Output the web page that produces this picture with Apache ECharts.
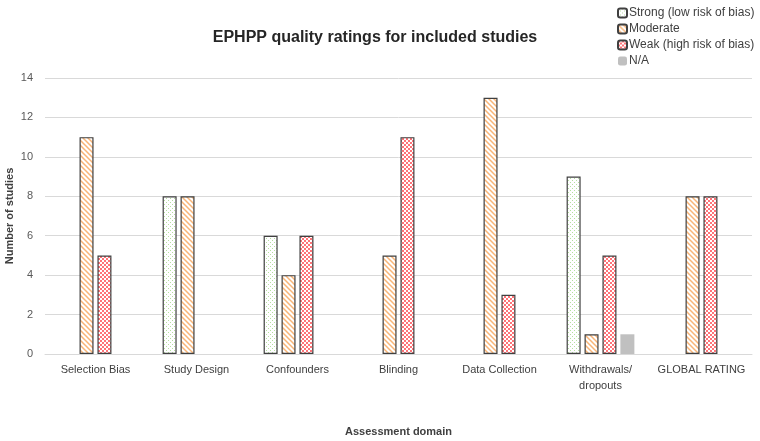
<!DOCTYPE html>
<html>
<head>
<meta charset="utf-8">
<script src="https://cdn.jsdelivr.net/npm/echarts@6/dist/echarts.min.js"></script>
<style>
  html, body { margin: 0; padding: 0; background: #fff; }
  #chart { width: 760px; height: 441px; }
</style>
</head>
<body>
<div id="chart"></div>
<script>
// data
var domains = ['Selection Bias', 'Study Design', 'Confounders', 'Blinding', 'Data Collection', 'Withdrawals/\ndropouts', 'GLOBAL RATING'];
var strong   = [0, 8, 6, 0, 0, 9, 0];
var moderate = [11, 8, 4, 5, 13, 1, 8];
var weak     = [5, 0, 6, 11, 3, 5, 8];
var na       = [0, 0, 0, 0, 0, 1, 0];
var seriesNames = ['Strong (low risk of bias)', 'Moderate', 'Weak (high risk of bias)', 'N/A'];
var yTicks = [0, 2, 4, 6, 8, 10, 12, 14];

// small canvas patterns to imitate the Excel fills
function makePattern(size, draw) {
    var c = document.createElement('canvas');
    c.width = size; c.height = size;
    var ctx = c.getContext('2d');
    ctx.fillStyle = '#fff';
    ctx.fillRect(0, 0, size, size);
    draw(ctx);
    return c;
}
var dots = makePattern(4, function (ctx) {
    ctx.fillStyle = '#b5dfa0';
    ctx.fillRect(0, 0, 1, 1);
    ctx.fillRect(2, 2, 1, 1);
});
var stripes = makePattern(5, function (ctx) {
    ctx.strokeStyle = '#f9b577';
    ctx.lineWidth = 1.5;
    ctx.beginPath();
    ctx.moveTo(-1, -1); ctx.lineTo(6, 6);
    ctx.moveTo(-1, 4); ctx.lineTo(1, 6);
    ctx.moveTo(4, -1); ctx.lineTo(6, 1);
    ctx.stroke();
});
var checks = makePattern(4, function (ctx) {
    ctx.fillStyle = '#ff7378';
    ctx.fillRect(0, 0, 2, 2);
    ctx.fillRect(2, 2, 2, 2);
});

function clean(arr) {
    // Excel leaves zero values empty
    return arr.map(function (v) { return v === 0 ? null : v; });
}

var font = 'Liberation Sans, Arial, sans-serif';
var myChart = echarts.init(document.getElementById('chart'));

function barSeries(name, data, fill, border) {
    return {
        name: name,
        type: 'bar',
        data: clean(data),
        barWidth: 14,
        barGap: '28%',
        itemStyle: {
            color: fill,
            borderColor: border,
            borderWidth: border ? 1.2 : 0
        }
    };
}

myChart.setOption({
    animation: false,
    textStyle: { fontFamily: font },
    title: {
        text: 'EPHPP quality ratings for included studies',
        left: 370,
        textAlign: 'center',
        top: 25,
        textStyle: { fontSize: 16, fontWeight: 'bold', color: '#262626', fontFamily: font }
    },
    legend: {
        orient: 'vertical',
        left: 612,
        top: 2,
        itemWidth: 9,
        itemHeight: 9,
        itemGap: 4,
        textStyle: { fontSize: 12, color: '#404040', padding: [0, 0, 0, -3] },
        data: seriesNames
    },
    grid: { left: 45, right: 8, top: 78, bottom: 87, containLabel: false, outerBoundsMode: 'none' },
    xAxis: {
        type: 'category',
        data: domains,
        name: 'Assessment domain',
        nameLocation: 'middle',
        nameGap: 72,
        nameMoveOverlap: false,
        nameTextStyle: { fontSize: 11, fontWeight: 'bold', color: '#404040' },
        axisLine: { lineStyle: { color: '#d9d9d9' } },
        axisTick: { show: false },
        axisLabel: { interval: 0, fontSize: 11, color: '#404040', margin: 8, lineHeight: 16 }
    },
    yAxis: {
        type: 'value',
        min: yTicks[0],
        max: yTicks[yTicks.length - 1],
        interval: yTicks[1] - yTicks[0],
        name: 'Number of studies',
        nameLocation: 'middle',
        nameGap: 30,
        nameMoveOverlap: false,
        nameTextStyle: { fontSize: 11, fontWeight: 'bold', color: '#404040' },
        axisLine: { show: false },
        axisTick: { show: false },
        axisLabel: { fontSize: 11, color: '#595959', margin: 12 },
        splitLine: { lineStyle: { color: '#d9d9d9' } }
    },
    series: [
        barSeries(seriesNames[0], strong, { image: dots, repeat: 'repeat' }, '#404040'),
        barSeries(seriesNames[1], moderate, { image: stripes, repeat: 'repeat' }, '#404040'),
        barSeries(seriesNames[2], weak, { image: checks, repeat: 'repeat' }, '#404040'),
        barSeries(seriesNames[3], na, '#c0c0c0', null)
    ]
});
</script>
</body>
</html>
